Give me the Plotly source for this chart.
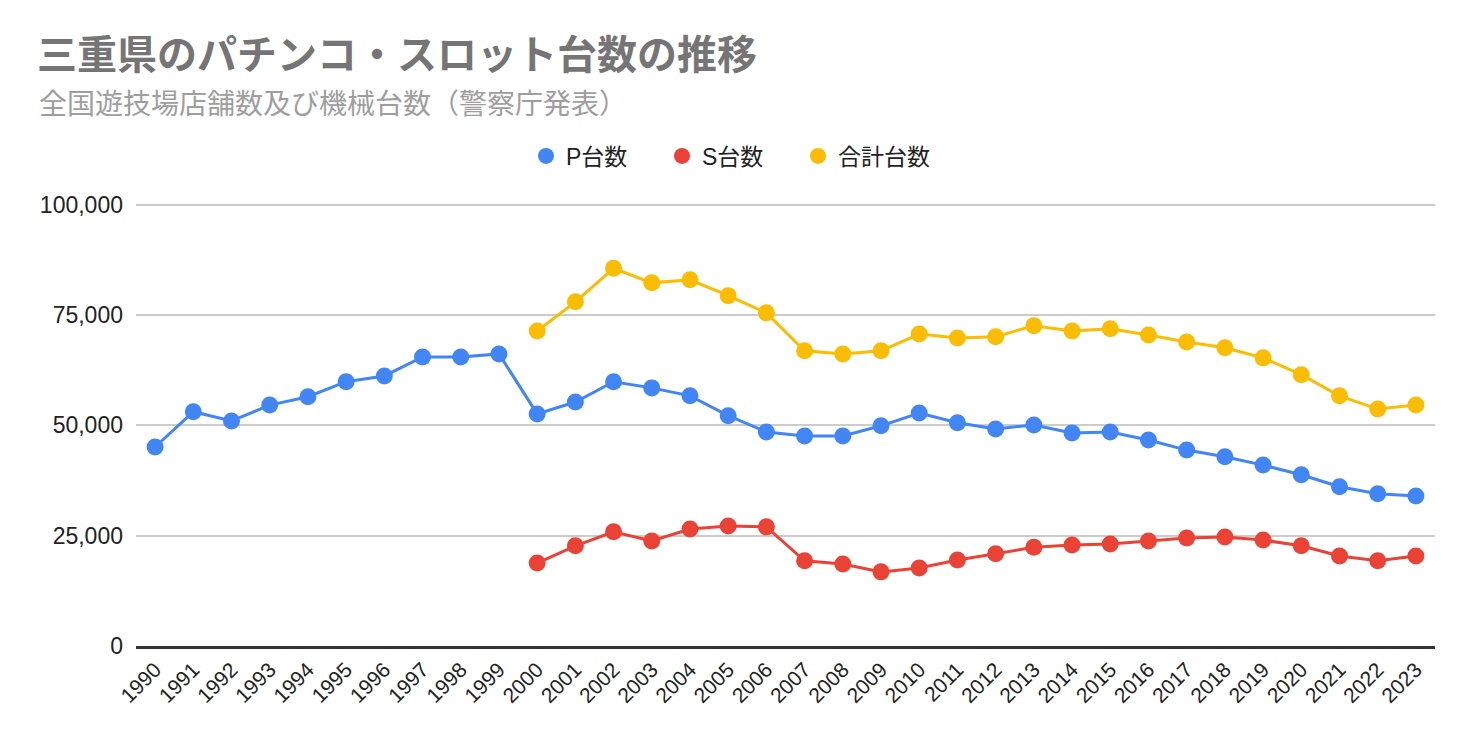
import plotly.graph_objects as go

years = [str(y) for y in range(1990, 2024)]

p_units = [45100, 53100, 51000, 54600, 56500, 59900, 61200, 65500, 65500, 66200,
           52600, 55300, 59900, 58500, 56700, 52200, 48500, 47600, 47600, 49900,
           52800, 50600, 49200, 50100, 48300, 48500, 46700, 44400, 42900, 41000,
           38800, 36100, 34500, 34000]

s_years = years[10:]
s_units = [18800, 22700, 25900, 23800, 26500, 27200, 27000, 19300, 18600, 16800,
           17700, 19500, 20900, 22400, 22900, 23100, 23800, 24500, 24700, 24000,
           22700, 20400, 19300, 20400]

total_units = [71400, 78000, 85600, 82300, 83000, 79400, 75500, 66900, 66200, 66900,
               70700, 69800, 70100, 72600, 71400, 71900, 70500, 68900, 67600, 65300,
               61500, 56700, 53700, 54600]

names = ["P台数", "S台数", "合計台数"]
colors = ["#4285F4", "#EA4335", "#FBBC04"]

title_text = "三重県のパチンコ・スロット台数の推移"
subtitle_text = "全国遊技場店舗数及び機械台数（警察庁発表）"
y_ticks = [0, 25000, 50000, 75000, 100000]

FONT = "Arial, 'Liberation Sans', 'Noto Sans CJK JP', sans-serif"

fig = go.Figure()
series = [(years, p_units), (s_years, s_units), (s_years, total_units)]
for (xs, ys), name, c in zip(series, names, colors):
    fig.add_trace(go.Scatter(
        x=xs, y=ys, mode="lines+markers", name=name, showlegend=False,
        line=dict(color=c, width=3),
        marker=dict(color=c, size=17),
    ))
for name, c in zip(names, colors):
    fig.add_trace(go.Scatter(
        x=[None], y=[None], mode="markers", name=name, showlegend=True,
        marker=dict(color=c, size=24),
    ))

fig.update_layout(
    width=1472, height=742,
    margin=dict(l=136, r=37, t=203, b=96),
    plot_bgcolor="white", paper_bgcolor="white",
    font=dict(family=FONT, size=20, color="#222222"),
    title=dict(
        text="<b>" + title_text + "</b>",
        xref="container", yref="container",
        x=37 / 1472, xanchor="left",
        y=1 - 55 / 742, yanchor="middle",
        font=dict(family=FONT, size=40, color="#757575"),
    ),
    legend=dict(
        orientation="h", xref="container", x=0.5 - 6 / 1472, xanchor="center",
        yref="container", y=1 - 156 / 742, yanchor="middle",
        font=dict(size=23, color="#222222"),
        itemsizing="trace",
        entrywidth=91,
    ),
    xaxis=dict(
        type="category", categoryorder="array", categoryarray=years,
        range=[-0.5, len(years) - 0.5],
        tickangle=-45, showgrid=False,
        showline=True, linecolor="#333333", linewidth=3,
        ticks="", tickfont=dict(size=21, color="#222222"),
        fixedrange=True,
    ),
    yaxis=dict(
        range=[0, 100400], tickvals=y_ticks,
        tickformat=",d",
        showgrid=True, gridcolor="#cccccc", gridwidth=1.5,
        zeroline=False,
        ticks="", ticklabelstandoff=12,
        tickfont=dict(size=23, color="#222222"),
        fixedrange=True,
    ),
    annotations=[dict(
        text=subtitle_text, xref="paper", yref="paper",
        x=(37 - 136) / 1299, xanchor="left",
        y=(646 - 104) / 443, yanchor="middle",
        showarrow=False,
        font=dict(family=FONT, size=28, color="#9e9e9e"),
    )],
)

fig.write_html("out.html", config={"displayModeBar": False},
               post_script="document.body.style.margin='0';")
